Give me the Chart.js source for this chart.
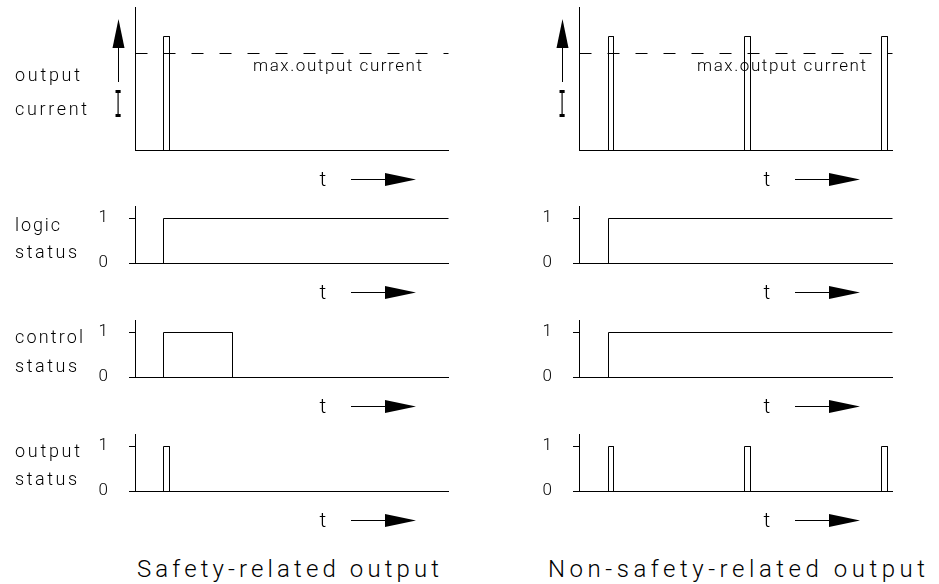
<!DOCTYPE html>
<html>
<head>
<meta charset="utf-8">
<script src="https://cdn.jsdelivr.net/npm/chart.js@4.4.1/dist/chart.umd.min.js"></script>
<style>
  html, body { margin: 0; padding: 0; background: #fff; }
  #page { position: relative; width: 939px; height: 584px; overflow: hidden; background: #fff; }
  #page canvas { position: absolute; }
  .lbl { position: absolute; white-space: nowrap; color: #000; }
</style>
</head>
<body>
<div id="page"></div>
<script>
// ---- data (time in arbitrary units, same span for both columns) ----
const timeMax = 313;
const maxCurrent = 1.0;      // dashed "max.output current" level
const statusTicks = [0, 1];

// safety-related output
const safeCurrentT = [0, 28, 28, 34, 34, 313];
const safeCurrentV = [0, 0, 1.175, 1.175, 0, 0];
const safeLogicT   = [0, 28, 28, 313];
const safeLogicV   = [0, 0, 1, 1];
const safeControlT = [0, 28, 28, 97, 97, 313];
const safeControlV = [0, 0, 1, 1, 0, 0];
const safeOutputT  = [0, 28, 28, 34, 34, 313];
const safeOutputV  = [0, 0, 1, 1, 0, 0];

// non-safety-related output
const plainCurrentT = [0, 29, 29, 34, 34, 165, 165, 171, 171, 302, 302, 308, 308, 313];
const plainCurrentV = [0, 0, 1.175, 1.175, 0, 0, 1.175, 1.175, 0, 0, 1.175, 1.175, 0, 0];
const plainLogicT   = [0, 29, 29, 313];
const plainLogicV   = [0, 0, 1, 1];
const plainControlT = [0, 29, 29, 313];
const plainControlV = [0, 0, 1, 1];
const plainOutputT  = [0, 29, 29, 34, 34, 165, 165, 171, 171, 302, 302, 308, 308, 313];
const plainOutputV  = [0, 0, 1, 1, 0, 0, 1, 1, 0, 0, 1, 1, 0, 0];

const rowNames = [['output', 'current'], ['logic', 'status'], ['control', 'status'], ['output', 'status']];
const columnTitles = ['Safety-related output', 'Non-safety-related output'];
const maxLabel = 'max.output current';

// ---- layout ----
const colAxisX = [135, 579];
const rowTop = [7, 206, 320, 434];
const rowBase = [150, 263, 377, 491];
const rowUnitPx = [97, 45, 45, 45];
const YW = 60, PR = 4, XH = 48;
const FONT = 'Roboto, "Open Sans", "DejaVu Sans", sans-serif';

const page = document.getElementById('page');
const mctx = document.createElement('canvas').getContext('2d');

function fitSpacing(ctx, text, width) {
  ctx.letterSpacing = '0px';
  const w = ctx.measureText(text).width;
  return (width - w) / (text.length - 1);
}

function addText(text, o) {
  const font = `${o.weight || 300} ${o.size}px ${o.family || FONT}`;
  mctx.font = font;
  mctx.letterSpacing = '0px';
  const m = mctx.measureText(text);
  const ls = o.width && text.length > 1 ? (o.width - m.width) / (text.length - 1) : 0;
  const el = document.createElement('span');
  el.className = 'lbl';
  el.textContent = text;
  el.style.font = font;
  el.style.lineHeight = o.size + 'px';
  el.style.letterSpacing = ls + 'px';
  const asc = m.fontBoundingBoxAscent, desc = m.fontBoundingBoxDescent;
  const top = o.baseline - ((o.size - (asc + desc)) / 2 + asc);
  const w = o.width || m.width;
  const left = o.align === 'center' ? o.x - w / 2 : o.x;
  el.style.left = left + 'px';
  el.style.top = top + 'px';
  if (o.transform) el.style.transform = o.transform;
  page.appendChild(el);
  return el;
}

// crisp 1px data lines
const pixelSnap = {
  id: 'pixelSnap',
  beforeDatasetsDraw(chart) { chart.ctx.save(); chart.ctx.translate(0.5, 0.5); },
  afterDatasetsDraw(chart) { chart.ctx.restore(); }
};

// t-arrow under each panel, current arrow and max label in the top row
const decor = {
  id: 'decor',
  afterDraw(chart, args, opts) {
    const { ctx, chartArea: a } = chart;
    ctx.save();
    ctx.fillStyle = '#000';
    ctx.strokeStyle = '#000';
    ctx.lineWidth = 1;
    const ty = Math.round(a.bottom + 29) + 0.5;
    ctx.font = `300 21px ${FONT}`;
    ctx.textAlign = 'center';
    ctx.textBaseline = 'alphabetic';
    ctx.fillText('t', a.left + 188, Math.round(a.bottom + 36));
    ctx.beginPath();
    ctx.moveTo(a.left + 216, ty);
    ctx.lineTo(a.left + 252, ty);
    ctx.stroke();
    ctx.beginPath();
    ctx.moveTo(a.left + 250, ty - 6.5);
    ctx.lineTo(a.left + 281, ty);
    ctx.lineTo(a.left + 250, ty + 6.5);
    ctx.closePath();
    ctx.fill();

    if (opts.current) {
      const ax = a.left - 17 + 0.5;
      ctx.beginPath();
      ctx.moveTo(ax, a.top + 40);
      ctx.lineTo(ax, a.top + 75);
      ctx.stroke();
      ctx.beginPath();
      ctx.moveTo(ax, a.top + 12);
      ctx.lineTo(ax - 6, a.top + 41);
      ctx.lineTo(ax + 6, a.top + 41);
      ctx.closePath();
      ctx.fill();

      const yPx = chart.scales.y.getPixelForValue(maxCurrent);
      ctx.font = `300 17px ${FONT}`;
      const ls = fitSpacing(ctx, maxLabel, 169);
      ctx.letterSpacing = ls + 'px';
      ctx.textAlign = 'left';
      ctx.fillText(maxLabel, a.left + 118, Math.round(yPx + 18));
    }
    ctx.restore();
  }
};

function toPoints(ts, vs) {
  return ts.map((t, i) => ({ x: t, y: vs[i] }));
}

function makePanel(col, row, ts, vs) {
  const top = rowTop[row], base = rowBase[row];
  const plotH = base - top;
  const yMax = plotH / rowUnitPx[row];
  const cv = document.createElement('canvas');
  const w = YW + timeMax + PR, h = plotH + XH;
  cv.width = w; cv.height = h;
  cv.style.left = (colAxisX[col] - YW) + 'px';
  cv.style.top = top + 'px';
  cv.style.width = w + 'px';
  cv.style.height = h + 'px';
  page.appendChild(cv);

  const isCurrent = row === 0;
  const datasets = [{
    data: toPoints(ts, vs),
    borderColor: '#000', borderWidth: 1, pointRadius: 0,
    fill: false, tension: 0, clip: false
  }];
  if (isCurrent) {
    datasets.push({
      data: toPoints([0, timeMax], [maxCurrent, maxCurrent]),
      borderColor: '#000', borderWidth: 1, borderDash: [12, 16],
      pointRadius: 0, fill: false, clip: false
    });
  }

  new Chart(cv, {
    type: 'line',
    data: { datasets },
    options: {
      responsive: false,
      animation: false,
      devicePixelRatio: 1,
      events: [],
      layout: { padding: { left: 0, right: PR, top: 0, bottom: 0 } },
      plugins: {
        legend: { display: false },
        tooltip: { enabled: false },
        decor: { current: isCurrent }
      },
      scales: {
        x: {
          type: 'linear', min: 0, max: timeMax,
          ticks: { display: false },
          grid: { display: false },
          border: { display: true, color: '#000', width: 1 },
          afterFit: s => { s.height = XH; s.paddingLeft = 0; s.paddingRight = 0; }
        },
        y: {
          type: 'linear', min: 0, max: yMax,
          ticks: {
            display: !isCurrent,
            color: '#000',
            padding: 21,
            font: { family: FONT, size: 17, weight: 300 },
            callback: v => String(v)
          },
          grid: {
            display: !isCurrent,
            drawOnChartArea: false,
            drawTicks: true,
            tickLength: 6,
            color: '#000'
          },
          border: { display: true, color: '#000', width: 1 },
          afterBuildTicks: s => { if (!isCurrent) s.ticks = statusTicks.map(v => ({ value: v })); },
          afterFit: s => { s.width = YW; s.paddingTop = 0; s.paddingBottom = 0; }
        }
      }
    },
    plugins: [pixelSnap, decor]
  });
}

makePanel(0, 0, safeCurrentT, safeCurrentV);
makePanel(0, 1, safeLogicT, safeLogicV);
makePanel(0, 2, safeControlT, safeControlV);
makePanel(0, 3, safeOutputT, safeOutputV);
makePanel(1, 0, plainCurrentT, plainCurrentV);
makePanel(1, 1, plainLogicT, plainLogicV);
makePanel(1, 2, plainControlT, plainControlV);
makePanel(1, 3, plainOutputT, plainOutputV);

// row labels (left column only)
const rowLabelBase = [[81, 115], [231, 258], [343, 372], [457, 485]];
const rowLabelWidth = { output: 65, current: 72, logic: 45, status: 62, control: 68 };
rowNames.forEach((pair, r) => {
  pair.forEach((name, k) => {
    addText(name, { x: 15, baseline: rowLabelBase[r][k], size: 18, width: rowLabelWidth[name] });
  });
});

// current symbol "I" next to the arrow
colAxisX.forEach(ax => {
  addText('I', { x: ax - 17, baseline: 117, size: 40, weight: 400,
    family: '"Liberation Mono", "DejaVu Sans Mono", monospace', align: 'center',
    transform: 'scaleX(0.32)' });
});

// column titles
addText(columnTitles[0], { x: 288, baseline: 577, size: 24, width: 302, align: 'center' });
addText(columnTitles[1], { x: 736.5, baseline: 577, size: 24, width: 377, align: 'center' });
</script>
</body>
</html>
